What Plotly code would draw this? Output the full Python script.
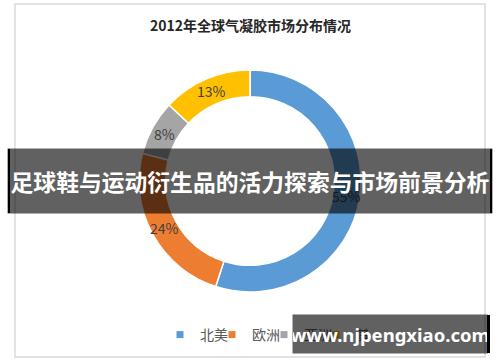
import math
import plotly.graph_objects as go

labels = ["北美", "欧洲", "亚洲", "其他"]
values = [55, 24, 8, 13]
colors = ["#5B9BD5", "#ED7D31", "#A5A5A5", "#FFC000"]
title_text = "2012年全球气凝胶市场分布情况"
banner_text = "足球鞋与运动衍生品的活力探索与市场前景分析"
watermark_text = "www.njpengxiao.com"

W, H = 500, 362
CJK = "Noto Sans CJK SC"

# donut geometry (pixels)
CX, CY, R_OUT, HOLE = 250, 181, 111, 0.76

fig = go.Figure(go.Pie(
    labels=labels, values=values, sort=False, direction="clockwise", rotation=0,
    hole=HOLE,
    marker=dict(colors=colors, line=dict(color="white", width=1.5)),
    textinfo="none", showlegend=False,
    domain=dict(x=[(CX - R_OUT) / W, (CX + R_OUT) / W],
                y=[(H - CY - R_OUT) / H, (H - CY + R_OUT) / H]),
    hoverinfo="skip",
))

# legend entries (small square keys, same categories/colours as the donut)
for lab, col in zip(labels, colors):
    fig.add_trace(go.Scatter(x=[None], y=[None], mode="markers", name=lab,
                             marker=dict(symbol="square", size=7, color=col, line=dict(width=0)),
                             hoverinfo="skip"))

# percentage labels at the middle of each ring segment (derived from the values)
total = sum(values)
r_mid = R_OUT * (1 + HOLE) / 2
label_annots = []
cum = 0
for v in values:
    mid = (cum + v / 2) / total * 2 * math.pi
    cum += v
    px = CX + r_mid * math.sin(mid)
    py = CY - r_mid * math.cos(mid)
    label_annots.append(dict(
        text=f"{round(v / total * 100)}%", x=px / W, y=1 - py / H, xref="paper", yref="paper",
        showarrow=False, font=dict(family=CJK, size=14, color="#404040"),
        xanchor="center", yanchor="middle"))

fig.update_layout(
    width=W, height=H, margin=dict(l=0, r=0, t=0, b=0),
    paper_bgcolor="white", plot_bgcolor="rgba(0,0,0,0)",
    xaxis=dict(visible=False), yaxis=dict(visible=False),
    showlegend=True,
    legend=dict(orientation="h", x=160 / W, xanchor="left", y=(H - 335) / H, yanchor="middle",
                font=dict(family=CJK, size=14, color="#595959"), itemwidth=30,
                entrywidth=7, entrywidthmode="pixels",
                bgcolor="rgba(0,0,0,0)"),
    shapes=[
        dict(type="rect", xref="paper", yref="paper", x0=15 / W, x1=485 / W,
             y0=1 - 357 / H, y1=1 - 4 / H, line=dict(color="#D9D9D9", width=1.5),
             fillcolor="rgba(0,0,0,0)", layer="below"),
        dict(type="rect", xref="paper", yref="paper", x0=487 / W, x1=490 / W,
             y0=1 - 353 / H, y1=1 - 315 / H, line=dict(width=0), fillcolor="black", layer="above"),
        dict(type="rect", xref="paper", yref="paper", x0=8 / W, x1=10 / W,
             y0=1 - 213 / H, y1=1 - 149 / H, line=dict(width=0), fillcolor="black", layer="above"),
        dict(type="rect", xref="paper", yref="paper", x0=490 / W, x1=492 / W,
             y0=1 - 213 / H, y1=1 - 149 / H, line=dict(width=0), fillcolor="black", layer="above"),
    ],
    annotations=[
        dict(text="<b>" + title_text + "</b>", x=0.5, y=1 - 25 / H, xref="paper", yref="paper",
             showarrow=False, font=dict(family=CJK, size=14, color="#262626"),
             xanchor="center", yanchor="middle"),
    ] + label_annots + [
        dict(text="<b>" + banner_text + "</b>", x=0.5, y=1 - 181 / H, xref="paper", yref="paper",
             showarrow=False, font=dict(family=CJK, size=22.8, color="white"),
             width=484, height=64, bgcolor="rgba(0,0,0,0.62)",
             xanchor="center", yanchor="middle", borderpad=0),
        dict(text="<b>" + watermark_text + "</b>", x=(293 + 487) / 2 / W, y=1 - 334 / H,
             xref="paper", yref="paper", showarrow=False,
             font=dict(family="Noto Sans", size=18.5, color="white"),
             width=194, height=38, bgcolor="rgba(0,0,0,0.62)",
             xanchor="center", yanchor="middle", borderpad=0),
    ],
)

fig.write_html("out.html", config={"displayModeBar": False},
               post_script="document.body.style.margin='0';document.body.style.overflow='hidden';")
